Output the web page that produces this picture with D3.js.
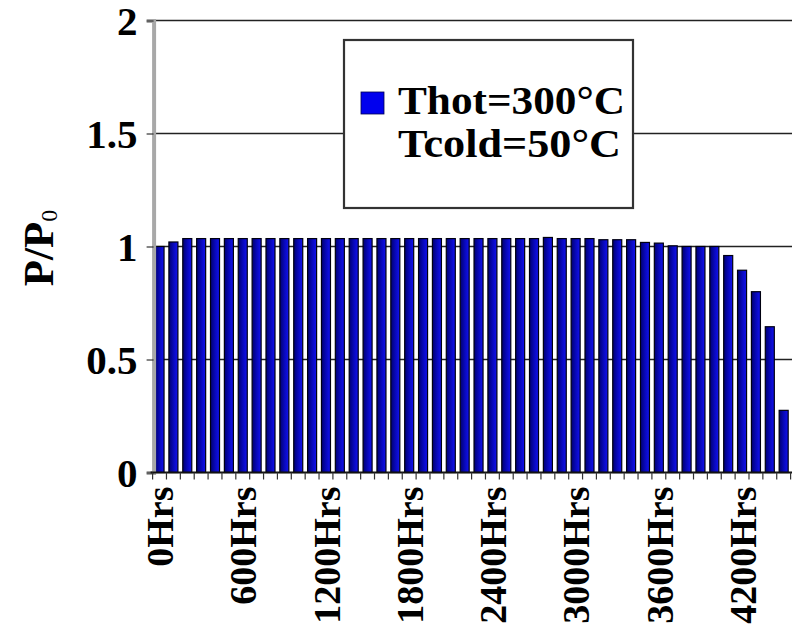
<!DOCTYPE html>
<html>
<head>
<meta charset="utf-8">
<script src="https://cdn.jsdelivr.net/npm/d3@7"></script>
<style>
  body { margin: 0; background: #fff; }
  text { font-family: "Liberation Serif", "Times New Roman", serif; font-weight: bold; fill: #000; }
</style>
</head>
<body>
<script>
// hours on the x axis, one bar every 100 hrs
var hours = d3.range(0, 4600, 100);
var hourLabels = hours.map(function(h) { return h + "Hrs"; });

// P/P0
var ratio = [
  1.00, 1.02, 1.035, 1.035, 1.035, 1.035, 1.035, 1.035, 1.035, 1.035,
  1.035, 1.035, 1.035, 1.035, 1.035, 1.035, 1.035, 1.035, 1.035, 1.035,
  1.035, 1.035, 1.035, 1.035, 1.035, 1.035, 1.035, 1.035, 1.04, 1.035,
  1.035, 1.035, 1.03, 1.03, 1.03, 1.018, 1.015, 1.003, 1.00, 1.00,
  1.00, 0.96, 0.895, 0.80, 0.645, 0.275
];

var yTicks = [0, 0.5, 1, 1.5, 2];
var yTickLabels = ["0", "0.5", "1", "1.5", "2"];
var legendLines = ["Thot=300\u00B0C", "Tcold=50\u00B0C"];

var width = 792, height = 630;
var plotLeft = 152.6, plotRight = 790.6, plotTop = 20.5, plotBottom = 472.5;

var svg = d3.select("body").append("svg")
  .attr("width", width)
  .attr("height", height);

var defs = svg.append("defs");
var grad = defs.append("linearGradient").attr("id", "barFill")
  .attr("x1", "0").attr("x2", "1").attr("y1", "0").attr("y2", "0");
grad.append("stop").attr("offset", "0").attr("stop-color", "#000070");
grad.append("stop").attr("offset", "0.5").attr("stop-color", "#0808b8");
grad.append("stop").attr("offset", "1").attr("stop-color", "#1212f2");

var x = d3.scaleBand()
  .domain(hourLabels)
  .range([plotLeft, plotRight])
  .paddingInner(0.35)
  .paddingOuter(0.175);

var y = d3.scaleLinear().domain([0, 2]).range([plotBottom, plotTop]);

// grid lines
svg.append("g").selectAll("line")
  .data(yTicks.slice(1))
  .enter().append("line")
  .attr("x1", plotLeft).attr("x2", width)
  .attr("y1", function(d) { return y(d); })
  .attr("y2", function(d) { return y(d); })
  .attr("stroke", "#222")
  .attr("stroke-width", 1.3);

// bars
svg.append("g").selectAll("rect")
  .data(ratio)
  .enter().append("rect")
  .attr("x", function(d, i) { return x(hourLabels[i]); })
  .attr("y", function(d) { return y(d); })
  .attr("width", x.bandwidth())
  .attr("height", function(d) { return y(0) - y(d); })
  .attr("fill", "url(#barFill)")
  .attr("stroke", "#000010")
  .attr("stroke-width", 1.2);

// y axis
var yAxis = svg.append("g")
  .attr("transform", "translate(" + (plotLeft + 1) + ",0)")
  .call(d3.axisLeft(y).tickValues(yTicks).tickSize(7).tickFormat(function(d, i) { return yTickLabels[i]; }));
yAxis.select(".domain").attr("stroke", "#a8a8a8").attr("stroke-width", 4);
yAxis.selectAll(".tick line").attr("stroke", "#333").attr("stroke-width", 1.2);
yAxis.selectAll(".tick text")
  .attr("x", -16)
  .attr("dy", "0.35em")
  .style("font-size", "41px")
  .style("font-family", "'Liberation Serif', serif")
  .style("font-weight", "bold")
  .attr("fill", "#000");

// x axis line and ticks between bars
var step = x.step();
svg.append("line")
  .attr("x1", plotLeft - 2).attr("x2", width)
  .attr("y1", plotBottom).attr("y2", plotBottom)
  .attr("stroke", "#111").attr("stroke-width", 2);
svg.append("g").selectAll("line")
  .data(d3.range(hours.length + 1))
  .enter().append("line")
  .attr("x1", function(i) { return plotLeft + i * step; })
  .attr("x2", function(i) { return plotLeft + i * step; })
  .attr("y1", plotBottom).attr("y2", plotBottom + 7)
  .attr("stroke", "#333").attr("stroke-width", 1.2);

// x labels every 600 hrs
svg.append("g").selectAll("text")
  .data(hourLabels.filter(function(d, i) { return i % 6 === 0; }))
  .enter().append("text")
  .attr("transform", function(d) {
    return "translate(" + (x(d) + x.bandwidth() / 2) + "," + (plotBottom + 14) + ") rotate(-90)";
  })
  .attr("text-anchor", "end")
  .attr("dy", "0.36em")
  .style("font-size", "38px")
  .text(function(d) { return d; });

// y title
var title = svg.append("text")
  .attr("transform", "translate(53,248) rotate(-90)")
  .attr("text-anchor", "middle")
  .style("font-size", "43px");
title.append("tspan").text("P/P");
title.append("tspan").attr("dy", "4").style("font-size", "24px").style("font-weight", "normal").text("0");

// legend
var legend = svg.append("g");
legend.append("rect")
  .attr("x", 344).attr("y", 40).attr("width", 289).attr("height", 168)
  .attr("fill", "#fff").attr("stroke", "#333").attr("stroke-width", 2.2);
legend.append("rect")
  .attr("x", 361).attr("y", 92).attr("width", 23).attr("height", 22)
  .attr("fill", "#0000ee").attr("stroke", "#000050").attr("stroke-width", 0.8);
legend.selectAll("text.lg")
  .data(legendLines)
  .enter().append("text")
  .attr("class", "lg")
  .attr("x", 398)
  .attr("y", function(d, i) { return 114 + i * 43; })
  .attr("textLength", function(d, i) { return i === 0 ? 227 : 223; })
  .attr("lengthAdjust", "spacingAndGlyphs")
  .style("font-size", "40px")
  .text(function(d) { return d; });
</script>
</body>
</html>
